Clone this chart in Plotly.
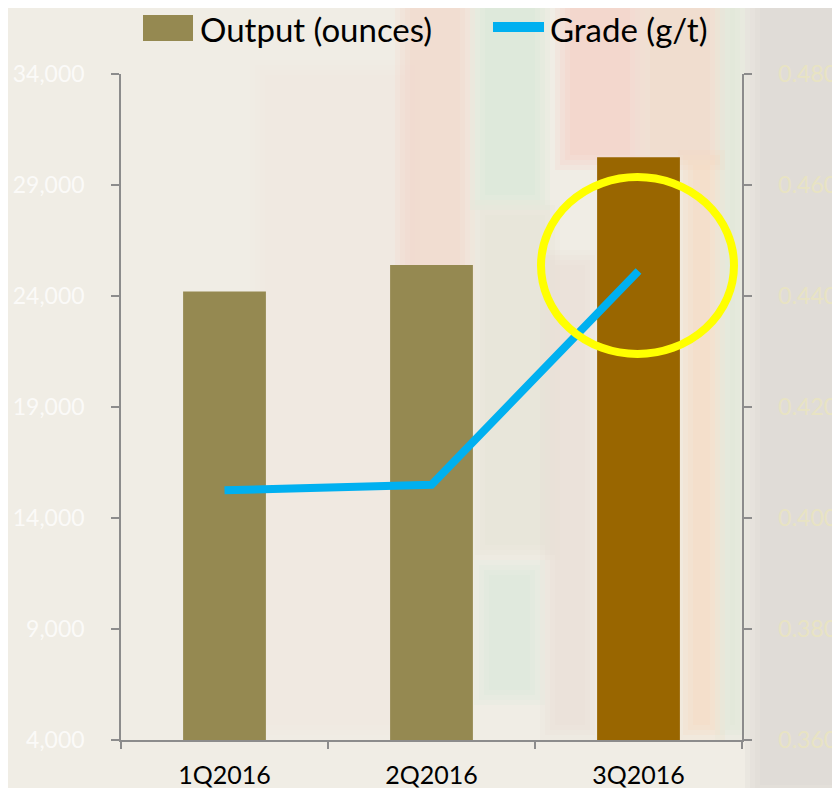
import plotly.graph_objects as go

quarters = ["1Q2016", "2Q2016", "3Q2016"]
output_oz = [24200, 25400, 30250]
grade_gt = [0.405, 0.406, 0.4445]
bar_colors = ["#958951", "#958951", "#996600"]
series_names = ["Output (ounces)", "Grade (g/t)"]

left_ticks = [4000, 9000, 14000, 19000, 24000, 29000, 34000]
right_ticks = [0.36, 0.38, 0.40, 0.42, 0.44, 0.46, 0.48]

FONT = "Lato"
OFF = 8  # page body margin
W, H = 840, 788
# screen-space plot area
SX0, SX1, SY0, SY1 = 121, 742, 74, 740

fig = go.Figure()
fig.add_trace(go.Bar(
    x=quarters, y=output_oz, name=series_names[0],
    marker=dict(color=bar_colors, line=dict(width=0)),
    width=0.4, yaxis="y", showlegend=False,
))
fig.add_trace(go.Scatter(
    x=quarters, y=grade_gt, name=series_names[1], mode="lines",
    line=dict(color="#00b0f0", width=8), yaxis="y2", showlegend=False,
))


def px(x):
    return (x - SX0) / (SX1 - SX0)


def py(y):
    return (SY1 - y) / (SY1 - SY0)


# soft background patches imitating the blurred photo: (x0, x1, y0, y1, rgb, alpha)
bg_patches = [
    (250, 420, 60, 740, (238, 228, 222), 0.35),
    (395, 475, -10, 330, (246, 200, 185), 0.5),
    (470, 550, -10, 210, (200, 228, 205), 0.5),
    (470, 560, 200, 560, (225, 218, 200), 0.35),
    (474, 545, 560, 705, (205, 228, 210), 0.45),
    (540, 600, 250, 740, (232, 215, 200), 0.45),
    (555, 645, -10, 170, (250, 192, 178), 0.6),
    (635, 725, -10, 170, (244, 205, 185), 0.55),
    (678, 725, 150, 740, (250, 210, 182), 0.65),
    (715, 750, -10, 740, (218, 226, 205), 0.6),
    (745, 850, -10, 800, (217, 212, 209), 0.95),
]
shapes = []
for x0, x1, y0, y1, rgb, a in bg_patches:
    n = 4
    for k in range(n):
        inset = 5 * k
        shapes.append(dict(
            type="rect", xref="paper", yref="paper", layer="below",
            x0=px(x0 + inset), x1=px(x1 - inset),
            y0=py(y1 - inset), y1=py(y0 + inset),
            fillcolor=f"rgba({rgb[0]},{rgb[1]},{rgb[2]},{a / n:.3f})",
            line=dict(width=0),
        ))

# highlight ellipse around 3Q2016
shapes.append(dict(
    type="circle", xref="paper", yref="paper", layer="above",
    x0=px(541), x1=px(734), y0=py(354), y1=py(177),
    line=dict(color="#ffff00", width=8), fillcolor="rgba(0,0,0,0)",
))

# custom legend keys
shapes.append(dict(
    type="rect", xref="paper", yref="paper", layer="above",
    x0=px(143), x1=px(193), y0=py(41), y1=py(15),
    fillcolor="#958951", line=dict(width=0),
))
shapes.append(dict(
    type="line", xref="paper", yref="paper", layer="above",
    x0=px(493), x1=px(544), y0=py(27), y1=py(27),
    line=dict(color="#00b0f0", width=10),
))

annotations = [
    dict(text=series_names[0], xref="paper", yref="paper",
         x=px(198), y=py(29), xanchor="left", yanchor="middle",
         showarrow=False, font=dict(size=33, family=FONT, color="#000000")),
    dict(text=series_names[1], xref="paper", yref="paper",
         x=px(548), y=py(29), xanchor="left", yanchor="middle",
         showarrow=False, font=dict(size=33, family=FONT, color="#000000")),
]

fig.update_layout(
    width=W, height=H,
    margin=dict(l=SX0 - OFF, r=W - (SX1 - OFF), t=SY0 - OFF, b=H - (SY1 - OFF),
                pad=0, autoexpand=False),
    paper_bgcolor="#f0ede5",
    plot_bgcolor="rgba(0,0,0,0)",
    font=dict(family=FONT, color="#000000"),
    showlegend=False,
    bargap=0.6,
    xaxis=dict(
        type="category", tickson="boundaries", ticks="outside", ticklen=7,
        tickcolor="#8c8c8c", tickwidth=1.5, automargin=False,
        showline=True, linecolor="#8c8c8c", linewidth=1.5,
        showgrid=False, zeroline=False,
        tickfont=dict(size=25, family=FONT, color="#000000"),
        ticklabelstandoff=12,
    ),
    yaxis=dict(
        range=[4000, 34000], tickvals=left_ticks, automargin=False,
        ticktext=[f"{v:,}" for v in left_ticks],
        ticks="outside", ticklen=8, tickcolor="#8c8c8c", tickwidth=1.5,
        showline=True, linecolor="#8c8c8c", linewidth=1.5,
        showgrid=False, zeroline=False,
        tickfont=dict(size=23, family=FONT, color="rgba(255,255,255,0.75)"),
        ticklabelstandoff=22,
    ),
    yaxis2=dict(
        overlaying="y", side="right", automargin=False,
        range=[0.36, 0.48], tickvals=right_ticks,
        ticktext=[f"{v:.3f}" for v in right_ticks],
        ticks="outside", ticklen=8, tickcolor="#8c8c8c", tickwidth=1.5,
        showline=True, linecolor="#8c8c8c", linewidth=1.5,
        showgrid=False, zeroline=False,
        tickfont=dict(size=23, family=FONT, color="rgba(235,230,190,0.8)"),
        ticklabelstandoff=22,
    ),
    shapes=shapes,
    annotations=annotations,
)

fig.write_html("out.html")
